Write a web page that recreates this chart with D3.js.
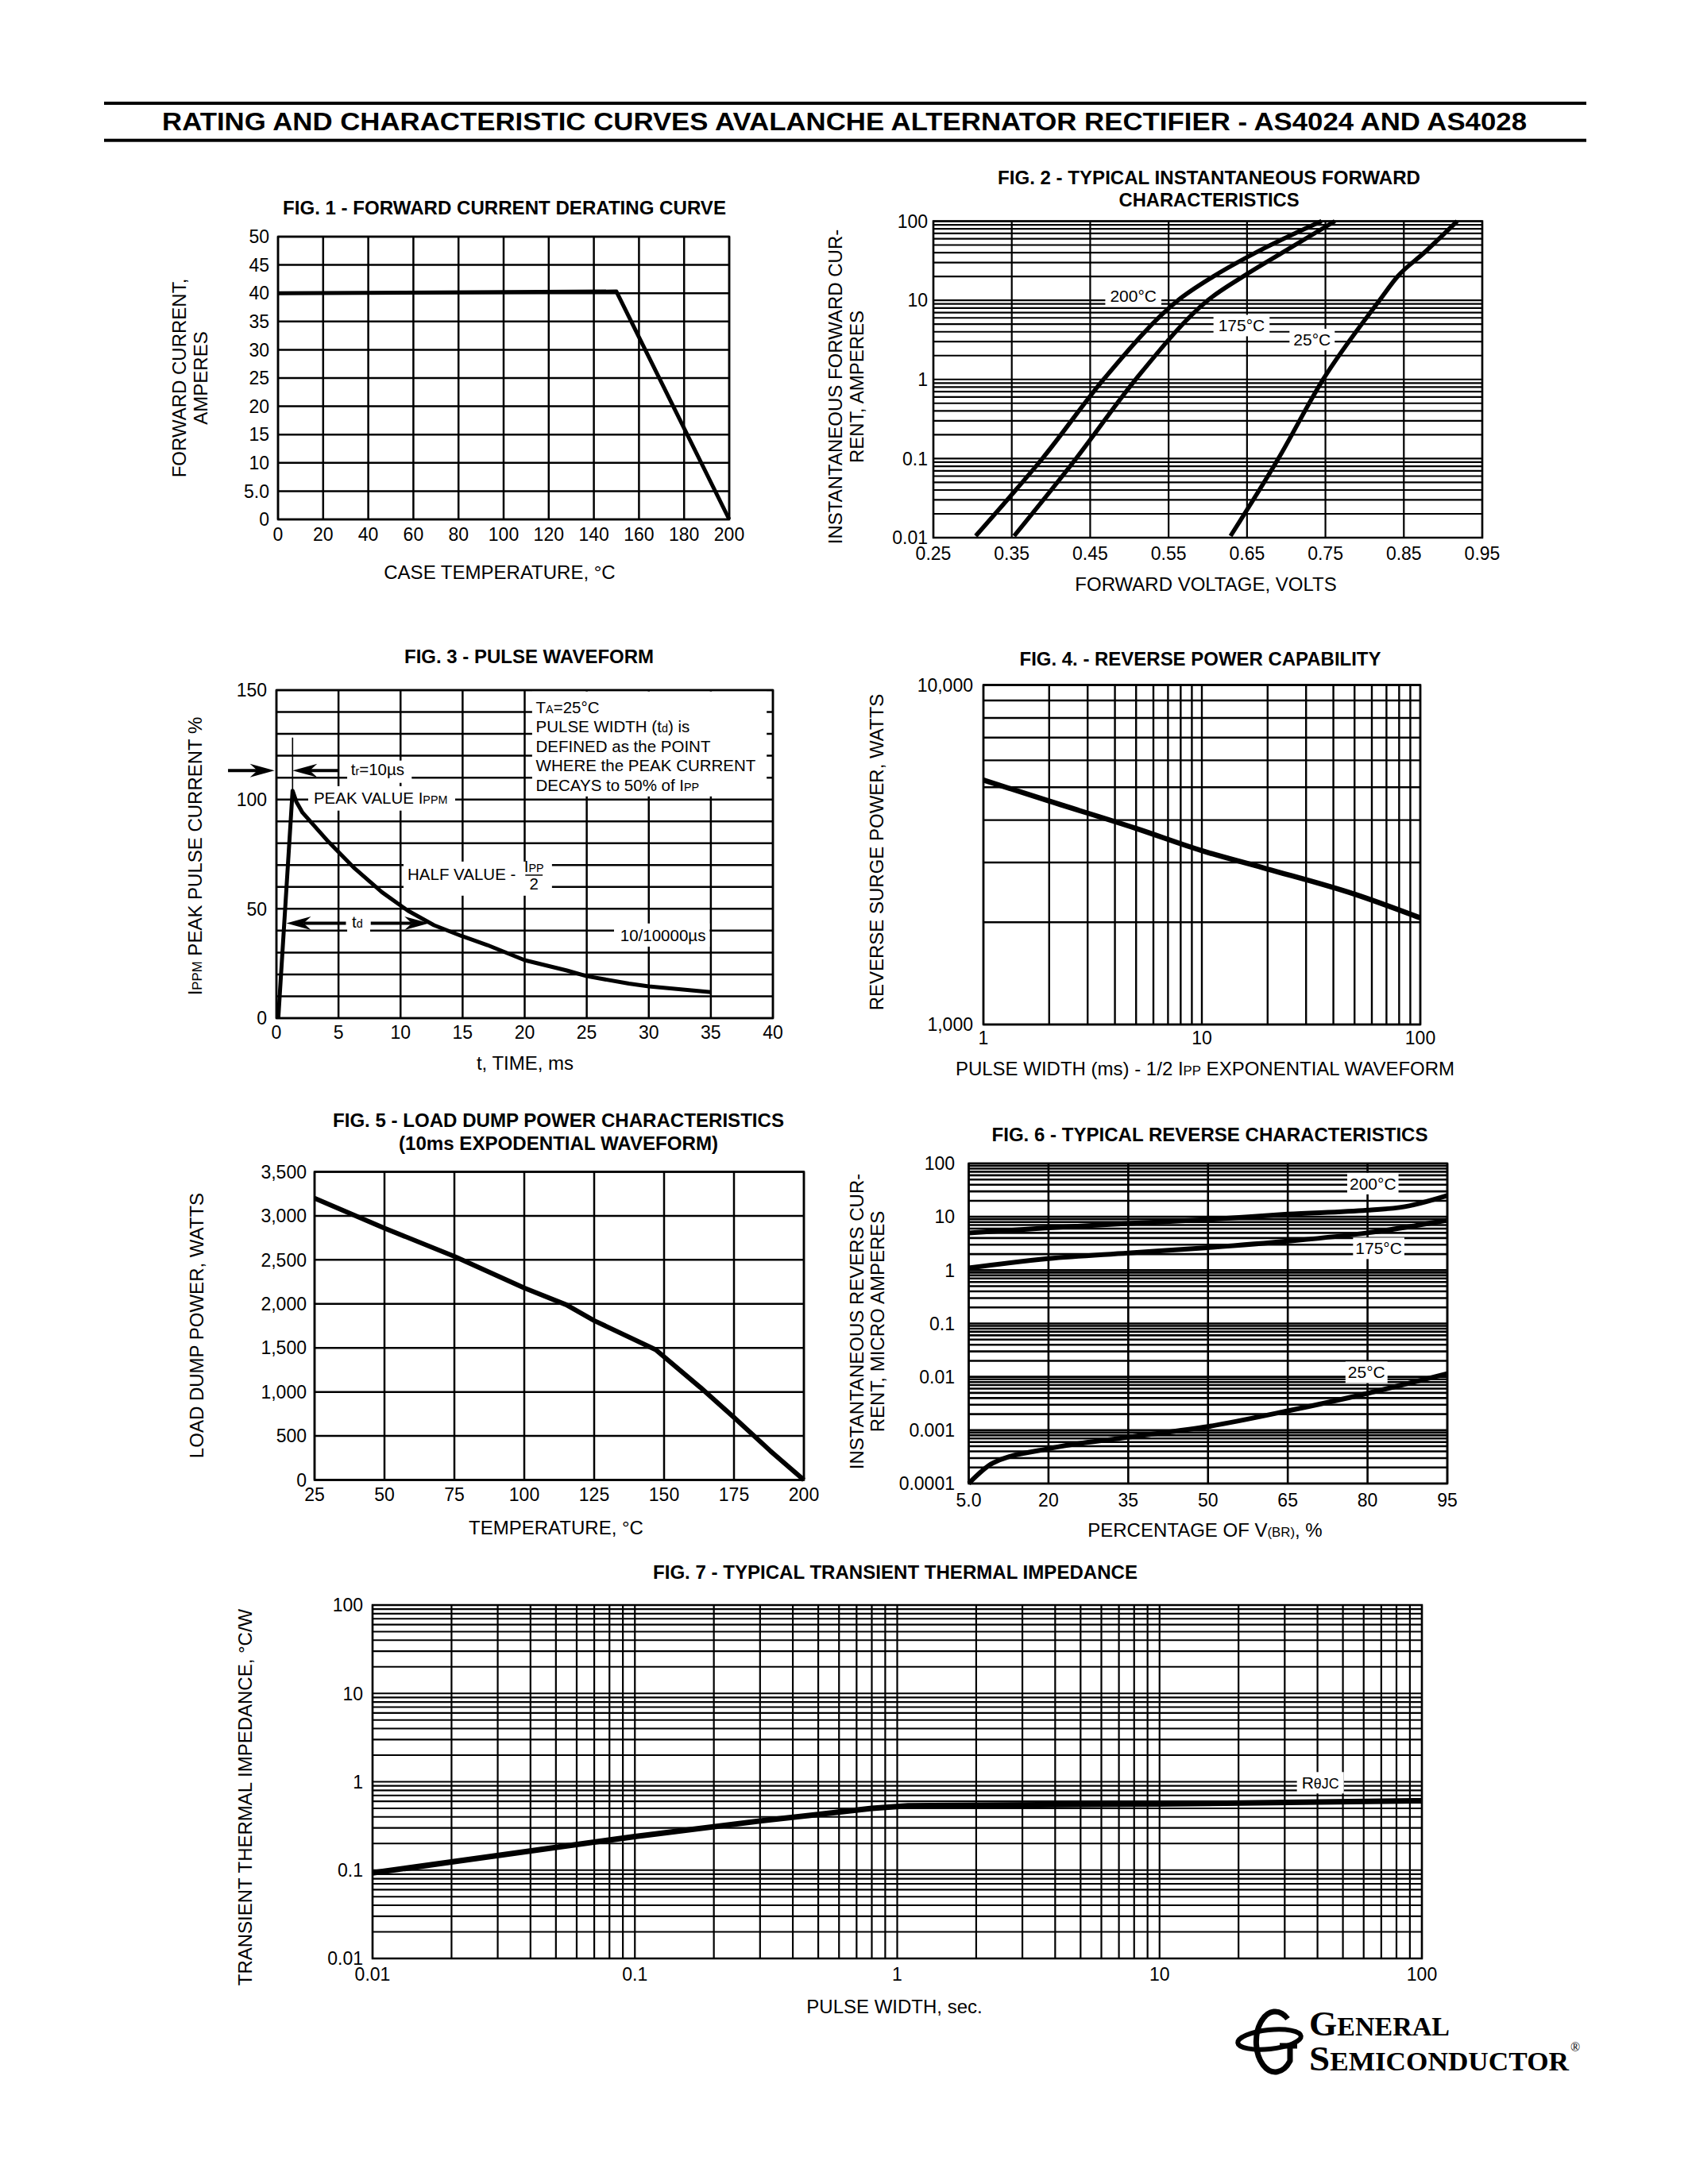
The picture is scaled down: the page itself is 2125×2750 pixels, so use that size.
<!DOCTYPE html>
<html>
<head>
<meta charset="utf-8">
<script src="https://cdn.jsdelivr.net/npm/d3@7"></script>
<style>
  body { margin: 0; background: #fff; }
  svg { display: block; }
</style>
</head>
<body>
<div id="sheet"></div>
<script>
  // ---- Fig. 1 - forward current derating curve
  var fig1Temp = [0, 150, 200]
  var fig1Amps = [40, 40.3, 0]
  var fig1XLabels = ["0", "20", "40", "60", "80", "100", "120", "140", "160", "180", "200"]
  var fig1YLabels = ["0", "5.0", "10", "15", "20", "25", "30", "35", "40", "45", "50"]

  // ---- Fig. 2 - typical instantaneous forward characteristics
  var fig2Volts200 = [0.304, 0.350, 0.389, 0.467, 0.562, 0.607, 0.661, 0.745]
  var fig2Amps200 = [0.0105, 0.035, 0.1, 1, 10, 20, 40, 100]
  var fig2Volts175 = [0.353, 0.432, 0.508, 0.600, 0.645, 0.695, 0.762]
  var fig2Amps175 = [0.0105, 0.1, 1, 10, 20, 40, 100]
  var fig2Volts25 = [0.629, 0.690, 0.747, 0.819, 0.842, 0.876, 0.918]
  var fig2Amps25 = [0.0105, 0.1, 1, 10, 20, 40, 100]
  var fig2XLabels = ["0.25", "0.35", "0.45", "0.55", "0.65", "0.75", "0.85", "0.95"]
  var fig2YLabels = ["0.01", "0.1", "1", "10", "100"]
  var fig2Names = ["200°C", "175°C", "25°C"]

  // ---- Fig. 3 - pulse waveform
  var fig3Time = [0.15, 1.3, 1.6, 2.1, 4.2, 6.3, 8.5, 10.6, 12.7, 14.9, 17, 20, 23.4, 25, 28.4, 30, 35]
  var fig3Pct = [0, 104, 99, 94, 80.6, 68.5, 57.6, 49.1, 42.5, 37.6, 33.4, 26.5, 21.8, 19.2, 15.8, 14.5, 11.9]
  var fig3XLabels = ["0", "5", "10", "15", "20", "25", "30", "35", "40"]
  var fig3YLabels = ["0", "50", "100", "150"]

  // ---- Fig. 4 - reverse power capability
  var fig4Width = [1, 2, 5, 10, 20, 50, 100]
  var fig4Watts = [5250, 4550, 3780, 3250, 2870, 2420, 2060]
  var fig4XLabels = ["1", "10", "100"]
  var fig4YLabels = ["1,000", "10,000"]

  // ---- Fig. 5 - load dump power characteristics
  var fig5Temp = [25, 50, 75, 100, 115, 125, 147, 163, 175, 188, 200]
  var fig5Watts = [3200, 2860, 2540, 2180, 1990, 1810, 1480, 1050, 710, 330, 0]
  var fig5XLabels = ["25", "50", "75", "100", "125", "150", "175", "200"]
  var fig5YLabels = ["0", "500", "1,000", "1,500", "2,000", "2,500", "3,000", "3,500"]

  // ---- Fig. 6 - typical reverse characteristics
  var fig6Pct200 = [5, 20, 35, 50, 65, 80, 87, 95]
  var fig6Amps200 = [5.0, 6.2, 7.5, 8.9, 11.2, 13.3, 15.5, 25]
  var fig6Pct175 = [5, 20, 35, 50, 65, 80, 95]
  var fig6Amps175 = [1.1, 1.65, 2.1, 2.65, 3.5, 5.0, 8.6]
  var fig6Pct25 = [5, 9.5, 20, 35, 50, 65, 80, 95]
  var fig6Amps25 = [0.0001, 0.00024, 0.00045, 0.00074, 0.00117, 0.0023, 0.0049, 0.0115]
  var fig6XLabels = ["5.0", "20", "35", "50", "65", "80", "95"]
  var fig6YLabels = ["0.0001", "0.001", "0.01", "0.1", "1", "10", "100"]
  var fig6Names = ["200°C", "175°C", "25°C"]

  // ---- Fig. 7 - transient thermal impedance
  var fig7Width = [0.01, 0.1, 0.3, 0.8, 1.1, 10, 100]
  var fig7Z = [0.093, 0.24, 0.36, 0.50, 0.535, 0.56, 0.61]
  var fig7Labels = ["0.01", "0.1", "1", "10", "100"]

  // The svg
  var svg = d3.select("#sheet")
    .append("svg")
    .attr("width", 2125)
    .attr("height", 2750)
    .attr("viewBox", "0 0 2125 2750")
    .attr("font-family", "'Liberation Sans', Arial, Helvetica, sans-serif")

  svg.append("rect").attr("width", 2125).attr("height", 2750).attr("fill", "#fff")

  function num(s) { return +String(s).replace(/,/g, "") }

  // grid lines of a panel
  function grid(x, y, xs, ys, w) {
    var g = svg.append("g").attr("stroke", "#000").attr("stroke-width", w)
    var xr = x.range(), yr = y.range()
    g.selectAll(null).data(xs).enter().append("line")
      .attr("x1", function (d) { return x(d) })
      .attr("x2", function (d) { return x(d) })
      .attr("y1", yr[0]).attr("y2", yr[1])
    g.selectAll(null).data(ys).enter().append("line")
      .attr("y1", function (d) { return y(d) })
      .attr("y2", function (d) { return y(d) })
      .attr("x1", xr[0]).attr("x2", xr[1])
  }

  function frame(x, y, w) {
    var xr = x.range(), yr = y.range()
    svg.append("rect")
      .attr("x", xr[0]).attr("y", yr[1])
      .attr("width", xr[1] - xr[0]).attr("height", yr[0] - yr[1])
      .attr("fill", "none").attr("stroke", "#000").attr("stroke-width", w)
  }

  function curve(x, y, xs, ys, w, smooth) {
    var pts = xs.map(function (d, i) { return [x(d), y(ys[i])] })
    svg.append("path")
      .attr("d", d3.line().curve(smooth ? d3.curveMonotoneX : d3.curveLinear)(pts))
      .attr("fill", "none")
      .attr("stroke", "#000")
      .attr("stroke-width", w)
      .attr("stroke-linejoin", "round")
  }

  function xTicks(x, labels, yc) {
    svg.append("g").selectAll(null).data(labels).enter().append("text")
      .attr("x", function (d) { return x(num(d)) })
      .attr("y", yc)
      .attr("dy", "0.36em")
      .attr("text-anchor", "middle")
      .attr("font-size", 23)
      .text(function (d) { return d })
  }

  function yTicks(y, labels, xr) {
    svg.append("g").selectAll(null).data(labels).enter().append("text")
      .attr("x", xr)
      .attr("y", function (d) { return y(num(d)) })
      .attr("dy", "0.36em")
      .attr("text-anchor", "end")
      .attr("font-size", 23)
      .text(function (d) { return d })
  }

  // text made of normal and small parts
  function rich(sel, parts) {
    parts.forEach(function (p) {
      sel.append("tspan").attr("font-size", p[1] ? (p[1] === true ? "0.7em" : p[1]) : null).text(p[0])
    })
    return sel
  }

  function figTitle(txt, cx, cy, w) {
    svg.append("text")
      .attr("x", cx).attr("y", cy).attr("dy", "0.36em")
      .attr("text-anchor", "middle")
      .attr("font-weight", "bold")
      .attr("font-size", 23)
      .attr("textLength", w)
      .attr("lengthAdjust", "spacingAndGlyphs")
      .text(txt)
  }

  function xTitle(cx, cy, parts) {
    rich(svg.append("text")
      .attr("x", cx).attr("y", cy).attr("dy", "0.36em")
      .attr("text-anchor", "middle")
      .attr("font-size", 24), parts)
  }

  function yTitle(cx, cy, parts) {
    rich(svg.append("text")
      .attr("transform", "translate(" + cx + "," + cy + ") rotate(-90)")
      .attr("dy", "0.36em")
      .attr("text-anchor", "middle")
      .attr("font-size", 24), parts)
  }

  // label sitting on a white patch over the grid
  function tag(cx, cy, parts, pad) {
    var g = svg.append("g")
    var t = rich(g.append("text")
      .attr("x", cx).attr("y", cy).attr("dy", "0.36em")
      .attr("text-anchor", "middle")
      .attr("font-size", 21), parts)
    var b = t.node().getBBox()
    g.insert("rect", "text")
      .attr("x", b.x - pad).attr("y", b.y - 2)
      .attr("width", b.width + 2 * pad).attr("height", b.height + 4)
      .attr("fill", "#fff")
  }

  function whiteBox(x, y, x0, x1, y0, y1) {
    svg.append("rect")
      .attr("x", x(x0)).attr("y", y(y1))
      .attr("width", x(x1) - x(x0)).attr("height", y(y0) - y(y1))
      .attr("fill", "#fff")
  }

  function arrow(x1, y1, x2, y2) {
    var len = 31, half = 8.5
    var dx = x2 - x1, dy = y2 - y1, d = Math.hypot(dx, dy)
    var ux = dx / d, uy = dy / d
    var bx = x2 - ux * len, by = y2 - uy * len
    var nx = x2 - ux * len * 0.7, ny = y2 - uy * len * 0.7
    svg.append("line")
      .attr("x1", x1).attr("y1", y1).attr("x2", nx).attr("y2", ny)
      .attr("stroke", "#000").attr("stroke-width", 4)
    svg.append("path")
      .attr("d", "M" + x2 + "," + y2 +
        "L" + (bx - uy * half) + "," + (by + ux * half) +
        "L" + nx + "," + ny +
        "L" + (bx + uy * half) + "," + (by - ux * half) + "Z")
      .attr("fill", "#000")
  }

  // ---- page header
  svg.append("rect").attr("x", 131).attr("y", 128).attr("width", 1866).attr("height", 4)
  svg.append("rect").attr("x", 131).attr("y", 174.7).attr("width", 1866).attr("height", 4)
  svg.append("text")
    .attr("x", 1063).attr("y", 164)
    .attr("text-anchor", "middle")
    .attr("font-weight", "bold")
    .attr("font-size", 32)
    .attr("textLength", 1718)
    .attr("lengthAdjust", "spacingAndGlyphs")
    .text("RATING AND CHARACTERISTIC CURVES AVALANCHE ALTERNATOR RECTIFIER - AS4024 AND AS4028")

  // ---- Fig. 1
  var x1 = d3.scaleLinear().domain([0, 200]).range([350, 918])
  var y1 = d3.scaleLinear().domain([0, 50]).range([654, 298])
  grid(x1, y1, fig1XLabels.map(num), fig1YLabels.map(num), 2.5)
  frame(x1, y1, 2.5)
  curve(x1, y1, fig1Temp, fig1Amps, 5, false)
  xTicks(x1, fig1XLabels, 673)
  yTicks(y1, fig1YLabels, 339)
  figTitle("FIG. 1 - FORWARD CURRENT DERATING CURVE", 635, 262, 558)
  xTitle(629, 720, [["CASE TEMPERATURE, °C"]])
  yTitle(225, 476, [["FORWARD CURRENT,"]])
  yTitle(252, 476, [["AMPERES"]])

  // ---- Fig. 2
  var x2 = d3.scaleLinear().domain([0.25, 0.95]).range([1175, 1866])
  var y2 = d3.scaleLog().domain([0.01, 100]).range([677, 278.5])
  grid(x2, y2, fig2XLabels.map(num), y2.ticks(), 2.2)
  frame(x2, y2, 2.5)
  curve(x2, y2, fig2Volts200, fig2Amps200, 5.5, true)
  curve(x2, y2, fig2Volts175, fig2Amps175, 5.5, true)
  curve(x2, y2, fig2Volts25, fig2Amps25, 5.5, true)
  tag(x2(0.505), y2(11.5), [[fig2Names[0]]], 6)
  tag(x2(0.643), y2(4.8), [[fig2Names[1]]], 6)
  tag(x2(0.733), y2(3.2), [[fig2Names[2]]], 5)
  xTicks(x2, fig2XLabels, 697)
  yTicks(y2, fig2YLabels, 1168)
  figTitle("FIG. 2 - TYPICAL INSTANTANEOUS FORWARD", 1522, 223.5, 532)
  figTitle("CHARACTERISTICS", 1522, 252, 227)
  xTitle(1518, 735.5, [["FORWARD VOLTAGE, VOLTS"]])
  yTitle(1051, 487, [["INSTANTANEOUS FORWARD CUR-"]])
  yTitle(1078, 487, [["RENT, AMPERES"]])

  // ---- Fig. 3
  var x3 = d3.scaleLinear().domain([0, 40]).range([348, 973])
  var y3 = d3.scaleLinear().domain([0, 150]).range([1282, 869])
  grid(x3, y3, x3.ticks(8), y3.ticks(15), 2.5)
  // white patches that carry the notes
  whiteBox(x3, y3, 20.6, 39.5, 101.4, 149.4)
  whiteBox(x3, y3, 5.7, 10.9, 107.6, 117.8)
  whiteBox(x3, y3, 2.56, 14.4, 94.9, 106.1)
  whiteBox(x3, y3, 10.24, 22.2, 56, 71.6)
  whiteBox(x3, y3, 5.7, 7.55, 38.5, 48)
  whiteBox(x3, y3, 27.2, 34.9, 32.7, 43.3)
  frame(x3, y3, 2.5)
  curve(x3, y3, fig3Time, fig3Pct, 5, false)

  // rise time marker
  svg.append("line")
    .attr("x1", x3(1.3)).attr("x2", x3(1.3))
    .attr("y1", y3(128.3)).attr("y2", y3(104))
    .attr("stroke", "#000").attr("stroke-width", 1.6)
  arrow(x3(-3.9), y3(113.2), x3(-0.15), y3(113.2))
  arrow(x3(5.0), y3(113.2), x3(1.3), y3(113.2))
  arrow(x3(5.6), y3(43.4), x3(0.8), y3(43.4))
  arrow(x3(7.6), y3(43.4), x3(12.3), y3(43.4))

  function note(t, p, parts, anchor) {
    return rich(svg.append("text")
      .attr("x", x3(t)).attr("y", y3(p))
      .attr("text-anchor", anchor || "start")
      .attr("font-size", 20.5), parts)
  }
  note(20.9, 139.6, [["T"], ["A", true], ["=25°C"]])
  note(20.9, 130.6, [["PULSE WIDTH (t"], ["d", true], [") is"]])
  note(20.9, 121.8, [["DEFINED as the POINT"]])
  note(20.9, 112.9, [["WHERE the PEAK CURRENT"]])
  note(20.9, 104, [["DECAYS to 50% of I"], ["PP", true]])
  note(6.0, 111, [["t"], ["r", true], ["=10µs"]])
  note(3.0, 97.9, [["PEAK VALUE I"], ["PPM", true]])
  note(10.56, 63.3, [["HALF VALUE -"]])
  note(20.75, 66.9, [["I"], ["PP", true]], "middle")
  note(20.75, 58.9, [["2"]], "middle")
  svg.append("line")
    .attr("x1", x3(20.05)).attr("x2", x3(21.45))
    .attr("y1", y3(65.4)).attr("y2", y3(65.4))
    .attr("stroke", "#000").attr("stroke-width", 1.5)
  note(6.08, 41.4, [["t"], ["d", true]])
  note(27.7, 35.2, [["10/10000µs"]])

  xTicks(x3, fig3XLabels, 1300)
  yTicks(y3, fig3YLabels, 336)
  figTitle("FIG. 3 - PULSE WAVEFORM", 666, 827, 314)
  xTitle(661, 1338, [["t, TIME, ms"]])
  yTitle(245, 1078, [["I"], ["PPM", true], [" PEAK PULSE CURRENT %"]])

  // ---- Fig. 4
  var x4 = d3.scaleLog().domain([1, 100]).range([1238, 1788])
  var y4 = d3.scaleLog().domain([1000, 10000]).range([1290, 862.5])
  grid(x4, y4, x4.ticks(), y4.ticks(), 2.4)
  frame(x4, y4, 2.5)
  curve(x4, y4, fig4Width, fig4Watts, 6.5, true)
  xTicks(x4, fig4XLabels, 1307)
  yTicks(y4, fig4YLabels, 1225)
  figTitle("FIG. 4. - REVERSE POWER CAPABILITY", 1511, 830, 455)
  xTitle(1517, 1345.5, [["PULSE WIDTH (ms) - 1/2 I"], ["PP", true], [" EXPONENTIAL WAVEFORM"]])
  yTitle(1103, 1073, [["REVERSE SURGE POWER, WATTS"]])

  // ---- Fig. 5
  var x5 = d3.scaleLinear().domain([25, 200]).range([396, 1012])
  var y5 = d3.scaleLinear().domain([0, 3500]).range([1863.5, 1475.5])
  grid(x5, y5, fig5XLabels.map(num), fig5YLabels.map(num), 2.5)
  frame(x5, y5, 2.5)
  curve(x5, y5, fig5Temp, fig5Watts, 6, false)
  xTicks(x5, fig5XLabels, 1882)
  yTicks(y5, fig5YLabels, 386)
  figTitle("FIG. 5 - LOAD DUMP POWER CHARACTERISTICS", 703, 1411, 568)
  figTitle("(10ms EXPODENTIAL WAVEFORM)", 703, 1440, 402)
  xTitle(700, 1923.6, [["TEMPERATURE, °C"]])
  yTitle(247.5, 1669, [["LOAD DUMP POWER, WATTS"]])

  // ---- Fig. 6
  var x6 = d3.scaleLinear().domain([5, 95]).range([1219.5, 1822])
  var y6 = d3.scaleLog().domain([0.0001, 100]).range([1868, 1465])
  grid(x6, y6, fig6XLabels.map(num), y6.ticks(), 2.6)
  frame(x6, y6, 2.5)
  curve(x6, y6, fig6Pct200, fig6Amps200, 6, true)
  curve(x6, y6, fig6Pct175, fig6Amps175, 6, true)
  curve(x6, y6, fig6Pct25, fig6Amps25, 6, true)
  tag(x6(81), y6(42), [[fig6Names[0]]], 3)
  tag(x6(82.1), y6(2.57), [[fig6Names[1]]], 3)
  tag(x6(79.8), y6(0.0122), [[fig6Names[2]]], 3)
  xTicks(x6, fig6XLabels, 1889)
  yTicks(y6, fig6YLabels, 1202)
  figTitle("FIG. 6 - TYPICAL REVERSE CHARACTERISTICS", 1523, 1429, 549)
  xTitle(1517, 1926, [["PERCENTAGE OF V"], ["(BR)", true], [", %"]])
  yTitle(1078, 1664, [["INSTANTANEOUS REVERS CUR-"]])
  yTitle(1104, 1664, [["RENT, MICRO AMPERES"]])

  // ---- Fig. 7
  var x7 = d3.scaleLog().domain([0.01, 100]).range([469, 1790])
  var y7 = d3.scaleLog().domain([0.01, 100]).range([2466, 2021])
  grid(x7, y7, x7.ticks(), y7.ticks(), 2.2)
  frame(x7, y7, 2.5)
  curve(x7, y7, fig7Width, fig7Z, 7, false)
  tag(x7(41), y7(0.975), [["R"], ["θJC", "0.85em"]], 6)
  xTicks(x7, fig7Labels, 2486)
  yTicks(y7, fig7Labels, 457)
  figTitle("FIG. 7 - TYPICAL TRANSIENT THERMAL IMPEDANCE", 1127, 1980, 610)
  xTitle(1126, 2526, [["PULSE WIDTH, sec."]])
  yTitle(308, 2263, [["TRANSIENT THERMAL IMPEDANCE, °C/W"]])

  // ---- company mark
  var mark = svg.append("g")
  mark.append("ellipse")
    .attr("cx", 1598).attr("cy", 2568).attr("rx", 40).attr("ry", 12)
    .attr("fill", "none").attr("stroke", "#000").attr("stroke-width", 6)
    .attr("transform", "rotate(-6 1598 2568)")
  mark.append("path")
    .attr("d", "M1621,2542 A24,38 0 1 0 1624,2595 L1624,2576 M1611,2576 L1633,2576")
    .attr("fill", "none").attr("stroke", "#000").attr("stroke-width", 7)
  var serif = "'Liberation Serif', 'DejaVu Serif', serif"
  var gen = mark.append("text")
    .attr("x", 1648).attr("y", 2563)
    .attr("font-family", serif).attr("font-weight", "bold")
    .attr("textLength", 177).attr("lengthAdjust", "spacingAndGlyphs")
  gen.append("tspan").attr("font-size", 44).text("G")
  gen.append("tspan").attr("font-size", 33).text("ENERAL")
  var semi = mark.append("text")
    .attr("x", 1648).attr("y", 2607)
    .attr("font-family", serif).attr("font-weight", "bold")
    .attr("textLength", 327).attr("lengthAdjust", "spacingAndGlyphs")
  semi.append("tspan").attr("font-size", 44).text("S")
  semi.append("tspan").attr("font-size", 33).text("EMICONDUCTOR")
  mark.append("text")
    .attr("x", 1983).attr("y", 2583)
    .attr("text-anchor", "middle")
    .attr("font-family", serif)
    .attr("font-size", 16)
    .text("®")
</script>
</body>
</html>
